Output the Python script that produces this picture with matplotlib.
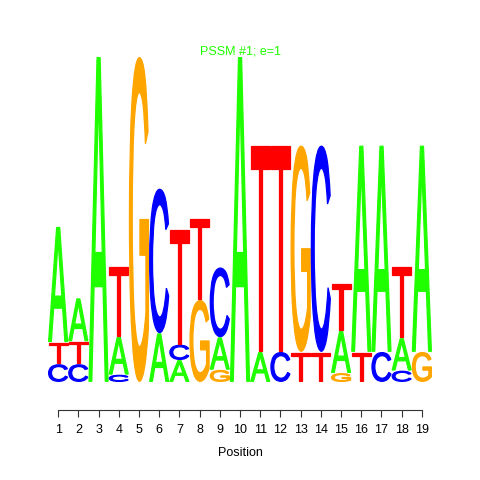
import matplotlib
matplotlib.use("Agg")
import matplotlib.pyplot as plt
from matplotlib.textpath import TextPath
from matplotlib.font_manager import FontProperties
from matplotlib.patches import PathPatch
from matplotlib.transforms import Affine2D

# letter heights (bits) per position
positions = list(range(1, 20))
height_A = [0.71, 0.265, 2.00, 0.235, 0.00, 0.30, 0.135, 0.00, 0.20, 2.00, 0.185, 0.00, 0.00, 0.00, 0.26, 1.27, 1.27, 0.20, 1.27]
height_C = [0.11, 0.11, 0.00, 0.045, 0.00, 0.89, 0.095, 0.00, 0.43, 0.00, 0.00, 0.185, 0.00, 1.27, 0.00, 0.00, 0.185, 0.07, 0.00]
height_G = [0.00, 0.00, 0.00, 0.00, 2.00, 0.00, 0.00, 0.505, 0.075, 0.00, 0.00, 0.00, 1.27, 0.00, 0.055, 0.00, 0.00, 0.00, 0.185]
height_T = [0.135, 0.14, 0.00, 0.43, 0.00, 0.00, 0.71, 0.505, 0.00, 0.00, 1.27, 1.27, 0.185, 0.185, 0.295, 0.185, 0.00, 0.44, 0.00]
# bottom-to-top order of letters in each stack
stack_order = ["CTA", "CTA", "A", "CAT", "G", "AC", "ACT", "GT", "GAC", "A",
               "AT", "CT", "TG", "TC", "GAT", "TA", "CA", "CAT", "GA"]

colors = {"A": "#1FFF00", "C": "#0000FF", "G": "#FFA500", "T": "#FF0000"}
heights = {"A": height_A, "C": height_C, "G": height_G, "T": height_T}

fp = FontProperties(family="Liberation Sans", weight="normal")


def draw_letter(ax, ch, x0, y0, w, h):
    tp = TextPath((0, 0), ch, size=1, prop=fp)
    ext = tp.get_extents()
    tr = Affine2D().translate(-ext.x0, -ext.y0).scale(w / ext.width, h / ext.height).translate(x0, y0)
    ax.add_patch(PathPatch(tr.transform_path(tp), facecolor=colors[ch],
                           edgecolor=colors[ch], linewidth=0.9, joinstyle="miter"))


fig = plt.figure(figsize=(4.8, 4.8), dpi=100)
ax = fig.add_axes([48 / 480, 98 / 480, 384 / 480, 325 / 480])
ax.set_xlim(0.5, 19.5)
ax.set_ylim(0, 2)

for i, pos in enumerate(positions):
    y = 0.0
    for ch in stack_order[i]:
        h = heights[ch][i]
        if h > 0:
            draw_letter(ax, ch, pos - 0.47, y + 0.004, 0.94, h - 0.008)
            y += h

for side in ["top", "right", "left"]:
    ax.spines[side].set_visible(False)
ax.spines["bottom"].set_position(("outward", 20))
ax.spines["bottom"].set_bounds(1, 19)
ax.spines["bottom"].set_color("#333333")
ax.set_yticks([])
ax.set_xticks(positions)
ax.set_xticklabels([str(p) for p in positions], fontsize=9, family="Liberation Sans")
ax.tick_params(axis="x", direction="out", length=5, width=0.8, color="#333333", pad=5)
ax.set_xlabel("Position", fontsize=9, family="Liberation Sans", labelpad=8)

fig.text(0.5, 1 - 51 / 480, "PSSM #1; e=1", color="#1FFF00", fontsize=9,
         family="Liberation Sans", ha="center", va="center")

fig.savefig("out.png", dpi=100)
